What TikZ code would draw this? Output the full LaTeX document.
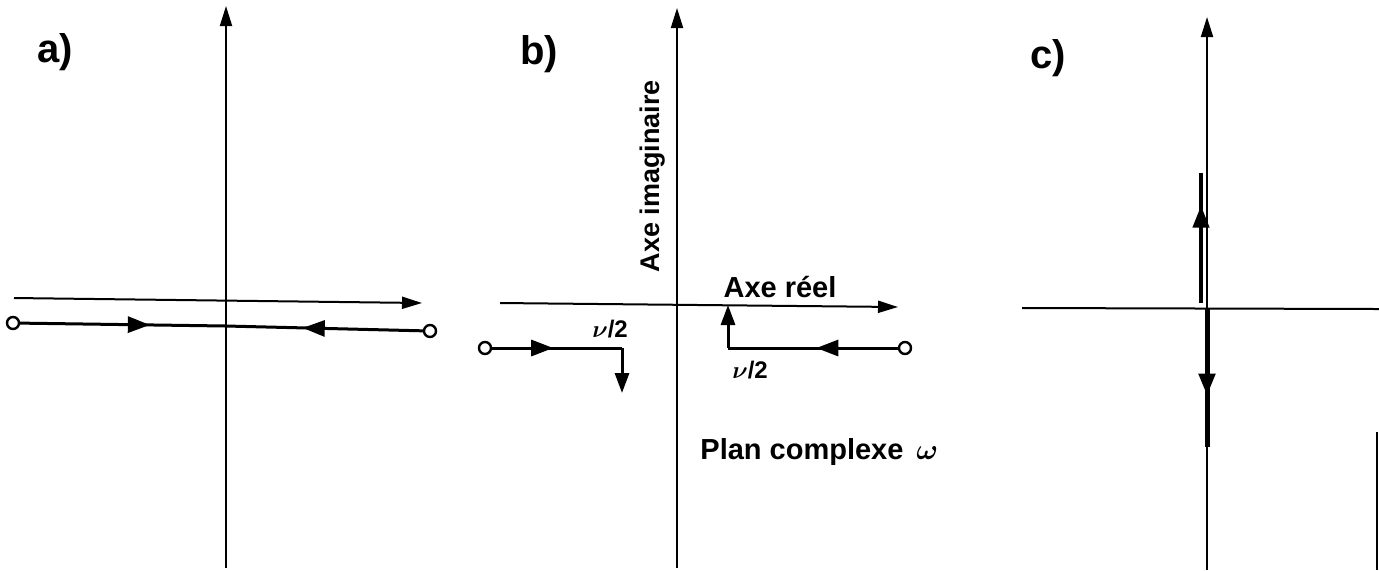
\documentclass[tikz,border=0pt]{standalone}
\usepackage{fontspec}
\setsansfont{Liberation Sans}
\usetikzlibrary{arrows.meta,decorations.markings}

\begin{document}
\begin{tikzpicture}[
  x=0.5pt, y=-0.5pt,
  axis/.style={line width=1pt, -{Triangle[length=10pt, width=6pt]}},
  trace/.style={line width=1.5pt},
  endpt/.style={circle, draw, line width=1.2pt, fill=white, minimum size=6pt, inner sep=0pt},
  midarr/.style={postaction={decorate}, decoration={markings, mark=at position #1 with {\arrow{Triangle[length=11pt, width=8pt]}}}},
  tiparr/.style={-{Triangle[length=10pt, width=7pt]}},
  panel/.style={font=\sffamily\bfseries\fontsize{20}{22}\selectfont, anchor=base west, inner sep=0pt},
  lbl/.style={font=\sffamily\bfseries\fontsize{14.5}{16}\selectfont, inner sep=0pt},
  nulbl/.style={font=\sffamily\bfseries\fontsize{12}{14}\selectfont, inner sep=0pt}
]
\useasboundingbox (0,0) rectangle (1379,570);

% panel a
\node[panel] (la) at (37,62) {a)};
\coordinate (ya0) at (226,568);
\coordinate (ya1) at (226,6);
\coordinate (xa0) at (14,298);
\coordinate (xa1) at (422,303);
\draw[axis] (ya0) -- (ya1);
\draw[axis] (xa0) -- (xa1);
\node[endpt] (oa1) at (13,323) {};
\node[endpt] (oa2) at (430,331) {};
\coordinate (ma) at (226,326);
\draw[trace, midarr=0.63] (oa1) -- (ma);
\draw[trace, midarr=0.61] (oa2) -- (ma);

% panel b
\node[panel] (lb) at (520,64) {b)};
\coordinate (yb0) at (677,568);
\coordinate (yb1) at (677,8);
\coordinate (xb0) at (500,303);
\coordinate (xb1) at (898,307);
\draw[axis] (yb0) -- (yb1);
\draw[axis] (xb0) -- (xb1);
\node[lbl, rotate=90, font=\sffamily\bfseries\fontsize{13.5}{15}\selectfont] (ima) at (653,176) {Axe imaginaire};
\node[lbl] (rea) at (780,287) {Axe réel};
\node[endpt] (ob1) at (485,348) {};
\coordinate (cb1) at (622,348);
\coordinate (eb1) at (622,393);
\draw[trace, midarr=0.47] (ob1) -- (cb1);
\draw[trace, tiparr] (cb1) -- (eb1);
\node[nulbl] (nu1) at (610,329) {{\boldmath$\nu$}/2};
\node[endpt] (ob2) at (905,348) {};
\coordinate (cb2) at (728,348);
\coordinate (eb2) at (728,305);
\draw[trace, midarr=0.48] (ob2) -- (cb2);
\draw[trace, tiparr] (cb2) -- (eb2);
\node[nulbl] (nu2) at (750,370) {{\boldmath$\nu$}/2};
\node[lbl, anchor=west] (plan) at (700,452) {Plan complexe \,{\boldmath$\omega$}};

% panel c
\node[panel] (lc) at (1030,68) {c)};
\coordinate (yc0) at (1207,570);
\coordinate (yc1) at (1207,17);
\coordinate (xc0) at (1022,308);
\coordinate (xc1) at (1379,309);
\draw[axis] (yc0) -- (yc1);
\draw[line width=1pt] (xc0) -- (xc1);
\coordinate (uc0) at (1201,303);
\coordinate (uc1) at (1201,173);
\draw[line width=2pt, midarr=0.75] (uc0) -- (uc1);
\coordinate (dc0) at (1207,308);
\coordinate (dc1) at (1207,447);
\draw[line width=2.5pt, midarr=0.63] (dc0) -- (dc1);
\coordinate (ec0) at (1377,432);
\coordinate (ec1) at (1377,570);
\draw[line width=0.8pt] (ec0) -- (ec1);
\end{tikzpicture}
\end{document}
